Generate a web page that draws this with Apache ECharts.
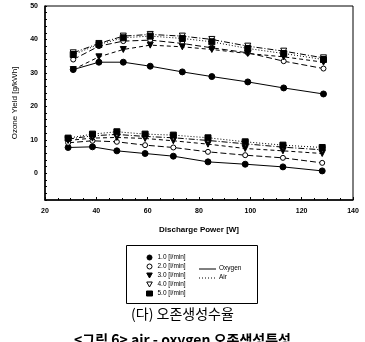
<!DOCTYPE html>
<html>
<head>
<meta charset="utf-8">
<script src="https://cdn.jsdelivr.net/npm/echarts@6/dist/echarts.min.js"></script>
<style>
  html, body { margin: 0; padding: 0; background: #fff; }
  #chart { width: 365px; height: 342px; }
</style>
</head>
<body>
<div id="chart"></div>
<script>
const powerOxygen = [31, 41, 50.5, 61, 73.5, 85, 99, 113, 128.5];
const powerAir = [29, 38.5, 48, 59, 70, 83.5, 98, 112.7, 128];

const flowRates = ['1.0 [l/min]', '2.0 [l/min]', '3.0 [l/min]', '4.0 [l/min]', '5.0 [l/min]'];

// ozone yield [g/kWh]
const oxygen10 = [31.0, 33.2, 33.2, 32.0, 30.3, 28.9, 27.3, 25.5, 23.7];
const oxygen20 = [34.0, 38.0, 39.5, 39.8, 38.8, 37.5, 36.0, 33.5, 31.3];
const oxygen30 = [31.0, 34.8, 37.0, 38.3, 37.8, 37.0, 35.8, 34.8, 33.2];
const oxygen40 = [36.0, 38.8, 41.0, 41.5, 41.0, 40.0, 38.0, 36.5, 34.5];
const oxygen50 = [35.5, 38.5, 40.5, 41.0, 40.3, 39.3, 37.3, 35.8, 34.0];

const air10 = [7.7, 7.9, 6.7, 5.9, 5.1, 3.4, 2.7, 1.9, 0.7];
const air20 = [9.1, 9.7, 9.4, 8.4, 7.7, 6.4, 5.4, 4.6, 3.1];
const air30 = [9.8, 10.5, 10.7, 10.4, 9.7, 8.7, 7.4, 6.7, 5.9];
const air40 = [10.2, 11.2, 11.6, 11.0, 10.6, 9.8, 8.8, 7.8, 7.0];
const air50 = [10.5, 11.7, 12.4, 11.7, 11.4, 10.6, 9.4, 8.4, 7.7];

const yLabels = [0, 10, 20, 30, 40, 50];

const oxygenSets = [oxygen10, oxygen20, oxygen30, oxygen40, oxygen50];
const airSets = [air10, air20, air30, air40, air50];

const triDown = 'path://M0,0L10,0L5,9Z';
const markers = [
  { symbol: 'circle', fill: '#000', size: 6 },
  { symbol: 'circle', fill: '#fff', size: 5 },
  { symbol: triDown, fill: '#000', size: 6 },
  { symbol: triDown, fill: '#fff', size: 6 },
  { symbol: 'rect', fill: '#000', size: 6 }
];
const dashes = ['solid', [6, 3], [4, 3], [6, 2, 1, 2], [1, 2]];

const font = 'Liberation Sans, Arial, sans-serif';

function makeSeries(xs, sets, group) {
  return sets.map((ys, i) => ({
    name: flowRates[i],
    type: 'line',
    data: xs.map((x, j) => [x, ys[j]]),
    symbol: markers[i].symbol,
    symbolSize: markers[i].size,
    itemStyle: { color: markers[i].fill, borderColor: '#000', borderWidth: 1 },
    lineStyle: { color: '#000', width: 1, type: dashes[i] },
    z: group === 'air' ? 2 : 3,
    animation: false
  }));
}

const chart = echarts.init(document.getElementById('chart'));
chart.setOption({
  animation: false,
  textStyle: { fontFamily: font },
  grid: {
    left: 45, top: 6, width: 308, height: 194,
    show: true, borderColor: '#000', borderWidth: 1, backgroundColor: 'transparent'
  },
  xAxis: {
    type: 'value', min: 20, max: 140, interval: 20,
    name: 'Discharge Power [W]', nameLocation: 'middle', nameGap: 26,
    nameTextStyle: { fontSize: 8, fontWeight: 'bold', color: '#000' },
    axisLine: { onZero: false, lineStyle: { color: '#000', width: 1.5 } },
    axisTick: { inside: true, length: 3, lineStyle: { color: '#000' } },
    minorTick: { show: true, splitNumber: 4, length: 2, lineStyle: { color: '#000' } },
    axisLabel: { fontSize: 7, fontWeight: 'bold', color: '#000', margin: 8 },
    splitLine: { show: false }
  },
  yAxis: {
    type: 'value', min: -8, max: 50, interval: 2,
    name: 'Ozone Yield [g/kWh]', nameLocation: 'middle', nameGap: 26,
    nameTextStyle: { fontSize: 8, color: '#000' },
    axisLine: { show: true, onZero: false, lineStyle: { color: '#000', width: 1.5 } },
    axisTick: { inside: true, length: 2, lineStyle: { color: '#000' } },
    axisLabel: { customValues: yLabels, fontSize: 7, fontWeight: 'bold', color: '#000', margin: 7 },
    splitLine: { show: false }
  },
  legend: {
    orient: 'vertical', left: 141, top: 249, itemGap: 2,
    itemWidth: 6, itemHeight: 5,
    textStyle: { fontSize: 6.5, lineHeight: 7, color: '#000', fontFamily: font },
    data: flowRates.map((n, i) => ({
      name: n,
      icon: markers[i].symbol,
      itemStyle: { color: markers[i].fill, borderColor: '#000', borderWidth: 1 }
    }))
  },
  graphic: [
    { type: 'rect', shape: { x: 126.5, y: 245.5, width: 131, height: 58 },
      style: { fill: 'none', stroke: '#000', lineWidth: 1 } },
    { type: 'line', shape: { x1: 199, y1: 269, x2: 216, y2: 269 },
      style: { stroke: '#000', lineWidth: 1 } },
    { type: 'line', shape: { x1: 199, y1: 278, x2: 216, y2: 278 },
      style: { stroke: '#000', lineWidth: 1, lineDash: [1, 2] } },
    { type: 'text', left: 219, top: 265,
      style: { text: 'Oxygen', fontSize: 6.5, fontFamily: font, fill: '#000' } },
    { type: 'text', left: 219, top: 274,
      style: { text: 'Air', fontSize: 6.5, fontFamily: font, fill: '#000' } },
    { type: 'text', left: 'center', top: 307,
      style: { text: '(다) 오존생성수율', fontSize: 14, fontFamily: 'Noto Sans CJK KR', fill: '#000' } },
    { type: 'text', left: 'center', top: 333,
      style: { text: '<그림 6> air - oxygen 오존생성특성', fontSize: 14, fontWeight: 'bold',
               fontFamily: 'Noto Sans CJK KR', fill: '#000' } }
  ],
  series: makeSeries(powerOxygen, oxygenSets, 'oxygen').concat(makeSeries(powerAir, airSets, 'air'))
});
</script>
</body>
</html>
